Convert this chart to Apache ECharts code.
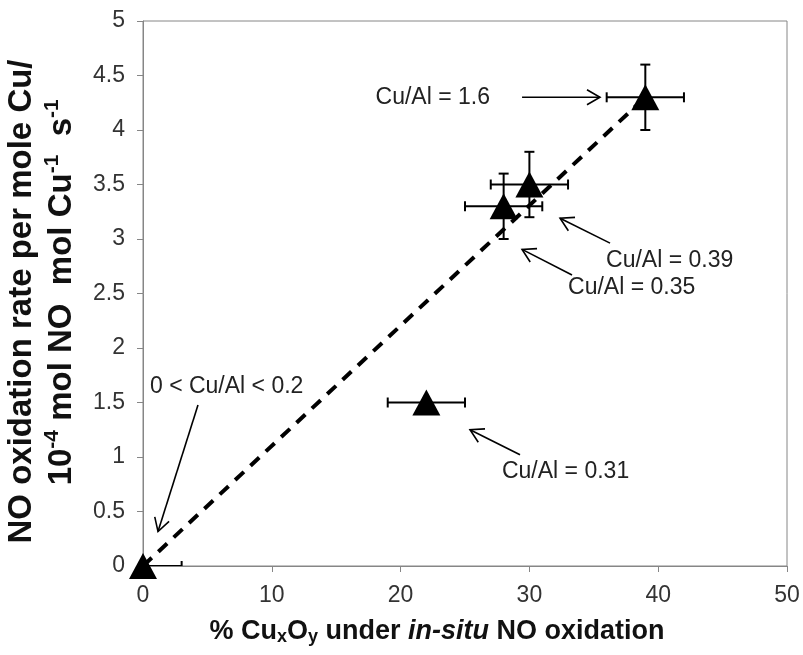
<!DOCTYPE html>
<html><head><meta charset="utf-8">
<script src="https://cdn.jsdelivr.net/npm/echarts@6/dist/echarts.min.js"></script>
<style>html,body{margin:0;padding:0;background:#fff}#c{width:803px;height:655px}</style>
</head><body><div id="c"></div>
<script>
// Data
const pctCuOx = [0, 22, 28, 30, 39];
const noRate  = [0, 1.5, 3.3, 3.5, 4.3];
const xErr    = [3, 3, 3, 3, 3];
const yErr    = [0, 0, 0.3, 0.3, 0.3];
const trendX  = [0, 39];
const trendY  = [0, 4.3];
const xTicks  = [0, 10, 20, 30, 40, 50];
const yTicks  = [0, 0.5, 1, 1.5, 2, 2.5, 3, 3.5, 4, 4.5, 5];
// Annotations (data coordinates)
const noteText  = ['Cu/Al = 1.6', 'Cu/Al = 0.39', 'Cu/Al = 0.35', 'Cu/Al = 0.31', '0 < Cu/Al < 0.2'];
const noteX     = [26.94, 35.95, 33.0, 27.87, 0.54];
const noteY     = [4.30, 2.80, 2.55, 0.865, 1.642];
const noteAlign = ['right', 'left', 'left', 'left', 'left'];
const arrowFrom = [[29.43, 4.30], [36.26, 2.962], [33.31, 2.67], [29.27, 1.02], [4.27, 1.478]];
const arrowTo   = [[35.48, 4.30], [32.38, 3.19], [29.43, 2.905], [25.39, 1.25], [1.165, 0.316]];

const FONT = 'Liberation Sans, Arial, sans-serif';
const chart = echarts.init(document.getElementById('c'));

const points = pctCuOx.map((x, i) => [x, noRate[i]]);
const errData = pctCuOx.map((x, i) => [x, noRate[i], xErr[i], yErr[i]]);
const arrowData = arrowFrom.map((f, i) => [f[0], f[1], arrowTo[i][0], arrowTo[i][1]]);
const noteData = noteX.map((x, i) => [x, noteY[i]]);

const option = {
  animation: false,
  grid: { left: 143, right: 16, top: 21, bottom: 89, containLabel: false, outerBoundsMode: 'none',
          show: true, borderColor: '#868686', borderWidth: 1 },
  xAxis: {
    type: 'value', min: xTicks[0], max: xTicks[xTicks.length - 1], interval: 10,
    axisLine: { lineStyle: { color: '#868686', width: 1 } },
    axisTick: { show: true, inside: false, length: 6, lineStyle: { color: '#868686' } },
    splitLine: { show: false },
    axisLabel: { fontSize: 23, color: '#333', fontFamily: FONT, margin: 18 },
    name: '{b|% Cu}{sub|x}{b|O}{sub|y}{b| under }{bi|in-situ}{b| NO oxidation}',
    nameLocation: 'middle', nameGap: 52,
    nameTextStyle: {
      padding: [0, 56, 0, 0],
      rich: {
        b:   { fontSize: 27, fontWeight: 'bold', fontFamily: FONT, color: '#111' },
        bi:  { fontSize: 27, fontWeight: 'bold', fontStyle: 'italic', fontFamily: FONT, color: '#111' },
        sub: { fontSize: 18, fontWeight: 'bold', fontFamily: FONT, color: '#111', verticalAlign: 'bottom', padding: [10, 0, 0, 0] }
      }
    }
  },
  yAxis: {
    type: 'value', min: yTicks[0], max: yTicks[yTicks.length - 1], interval: 0.5,
    axisLine: { show: true, lineStyle: { color: '#868686', width: 1 } },
    axisTick: { show: true, inside: false, length: 6, lineStyle: { color: '#868686' } },
    splitLine: { show: false },
    axisLabel: { fontSize: 23, color: '#333', fontFamily: FONT, margin: 18 },
    name: '{b|NO oxidation rate per mole Cu/}\n{b|  10}{sup|-4}{b| mol NO  mol Cu}{sup|-1}{b|  s}{sup|-1}',
    nameLocation: 'middle', nameGap: 60, nameRotate: 90,
    nameTextStyle: {
      lineHeight: 40,
      padding: [0, 16, 0, 0],
      rich: {
        b:   { fontSize: 33, fontWeight: 'bold', fontFamily: FONT, color: '#111', lineHeight: 40 },
        sup: { fontSize: 21, fontWeight: 'bold', fontFamily: FONT, color: '#111', verticalAlign: 'top', padding: [0, 0, 12, 0], lineHeight: 40 }
      }
    }
  },
  series: [
    {
      type: 'line', data: trendX.map((x, i) => [x, trendY[i]]), symbol: 'none', silent: true,
      lineStyle: { color: '#000', width: 4, type: [12, 9], opacity: 1 }, z: 2
    },
    {
      type: 'custom', z: 3, clip: true,
      data: errData,
      renderItem: function (params, api) {
        const x = api.value(0), y = api.value(1), ex = api.value(2), ey = api.value(3);
        const c = api.coord([x, y]);
        const cap = 5;
        const st = { stroke: '#000', lineWidth: 2 };
        const kids = [];
        if (ex > 0) {
          const l = api.coord([x - ex, y]), r = api.coord([x + ex, y]);
          kids.push({ type: 'line', shape: { x1: l[0], y1: c[1], x2: r[0], y2: c[1] }, style: st });
          kids.push({ type: 'line', shape: { x1: l[0], y1: c[1] - cap, x2: l[0], y2: c[1] + cap }, style: st });
          kids.push({ type: 'line', shape: { x1: r[0], y1: c[1] - cap, x2: r[0], y2: c[1] + cap }, style: st });
        }
        if (ey > 0) {
          const t = api.coord([x, y + ey]), b = api.coord([x, y - ey]);
          kids.push({ type: 'line', shape: { x1: c[0], y1: t[1], x2: c[0], y2: b[1] }, style: st });
          kids.push({ type: 'line', shape: { x1: c[0] - cap, y1: t[1], x2: c[0] + cap, y2: t[1] }, style: st });
          kids.push({ type: 'line', shape: { x1: c[0] - cap, y1: b[1], x2: c[0] + cap, y2: b[1] }, style: st });
        }
        return { type: 'group', children: kids };
      }
    },
    {
      type: 'scatter', data: points, symbol: 'triangle', symbolSize: [28, 26], clip: false, z: 4,
      itemStyle: { color: '#000', opacity: 1 }
    },
    {
      type: 'custom', z: 5, clip: false, silent: true,
      data: arrowData,
      renderItem: function (params, api) {
        const a = api.coord([api.value(0), api.value(1)]);
        const b = api.coord([api.value(2), api.value(3)]);
        const ang = Math.atan2(b[1] - a[1], b[0] - a[0]);
        const L = 15, w = Math.PI / 6;
        const p1 = [b[0] - L * Math.cos(ang - w), b[1] - L * Math.sin(ang - w)];
        const p2 = [b[0] - L * Math.cos(ang + w), b[1] - L * Math.sin(ang + w)];
        const st = { stroke: '#000', lineWidth: 1.6, fill: null };
        return { type: 'group', children: [
          { type: 'line', shape: { x1: a[0], y1: a[1], x2: b[0], y2: b[1] }, style: st },
          { type: 'polyline', shape: { points: [p1, b, p2] }, style: st }
        ] };
      }
    },
    {
      type: 'custom', z: 5, clip: false, silent: true,
      data: noteData,
      renderItem: function (params, api) {
        const p = api.coord([api.value(0), api.value(1)]);
        const i = params.dataIndex;
        return { type: 'text', x: p[0], y: p[1], style: {
          text: noteText[i], fontSize: 23, fontFamily: FONT, fill: '#222',
          align: noteAlign[i], verticalAlign: 'middle'
        } };
      }
    }
  ]
};
chart.setOption(option);
</script>
</body></html>
